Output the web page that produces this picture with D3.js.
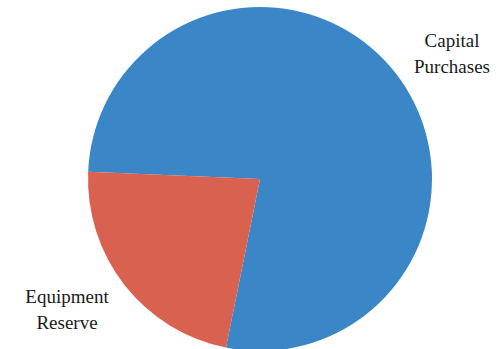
<!DOCTYPE html>
<html><head><meta charset="utf-8">
<script src="https://cdn.jsdelivr.net/npm/d3@7"></script>
<style>html,body{margin:0;padding:0;background:#fff;}svg{display:block;}</style>
</head><body>
<script>
const categories = ["Capital Purchases", "Equipment Reserve"];
const values = [77.5, 22.5];
const colors = ["#3a86c6", "#d8614f"];
const labelLines = [["Capital", "Purchases"], ["Equipment", "Reserve"]];

const W = 502, H = 349;
const svg = d3.select("body").append("svg").attr("width", W).attr("height", H);
const cx = 260, cy = 179, r = 172;
const start = -87.6 * Math.PI / 180;

const data = categories.map((c, i) => ({name: c, value: values[i], color: colors[i], lines: labelLines[i]}));
const pie = d3.pie().sort(null).value(d => d.value).startAngle(start).endAngle(start + 2 * Math.PI);
const arc = d3.arc().innerRadius(0).outerRadius(r);

const g = svg.append("g").attr("transform", `translate(${cx},${cy})`);
g.selectAll("path").data(pie(data)).join("path")
  .attr("d", arc).attr("fill", d => d.data.color);

const labelPos = [[452, 47], [67, 303]];
data.forEach((d, i) => {
  d.lines.forEach((ln, j) => {
    svg.append("text")
      .attr("x", labelPos[i][0]).attr("y", labelPos[i][1] + j * 25.5)
      .attr("text-anchor", "middle")
      .style("font-family", "Liberation Serif")
      .style("font-size", "19px")
      .style("fill", "#1a1a1a")
      .text(ln);
  });
});
</script>
</body></html>
